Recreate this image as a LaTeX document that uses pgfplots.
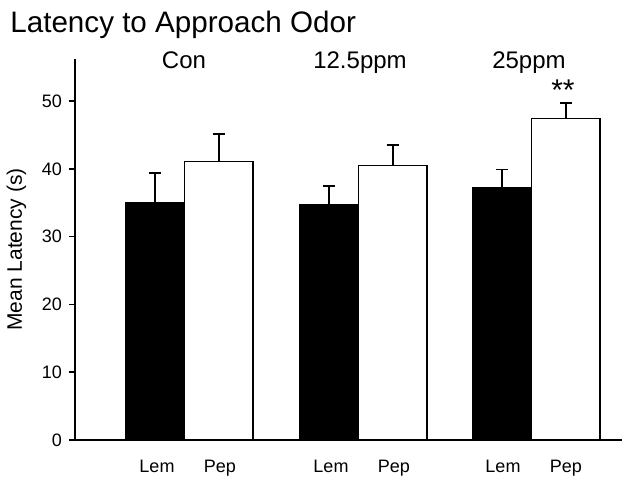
\documentclass[border=0pt]{standalone}
\usepackage{fontspec}
\setmainfont{Liberation Sans}
\usepackage{pgfplots}
\pgfplotsset{compat=1.18}
\begin{document}
\begin{tikzpicture}
\begin{axis}[
  scale only axis,
  width=273.5pt, height=190.5pt,
  xmin=75, xmax=622, ymin=0, ymax=56.2,
  axis x line=bottom, axis y line=left,
  axis line style={-, line width=0.8pt},
  clip=false,
  /pgf/number format/assume math mode=true,
  ytick={0,10,20,30,40,50},
  yticklabel style={font=\fontsize{9}{10}\selectfont},
  tick align=outside,
  major tick length=3pt,
  ytick style={line width=0.8pt, black},
  xtick={157,220,331,394,503,566},
  xticklabels={Lem,Pep,Lem,Pep,Lem,Pep},
  xtick style={draw=none},
  xticklabel style={font=\fontsize{9}{10}\selectfont, anchor=base, yshift=-13.3pt},
]
\addplot[ybar, bar shift=0pt, bar width=58.5, fill=black, draw=black, line width=0.5pt,
  error bars/.cd, y dir=plus, y explicit,
  error mark=|, error bar style={line width=0.9pt, black},
  error mark options={line width=0.9pt, mark size=3pt, black}]
  coordinates {(155.25,35.1) +- (0,4.3) (329.25,34.8) +- (0,2.7) (502.25,37.2) +- (0,2.7)};
\addplot[ybar, bar shift=0pt, bar width=68.5, fill=white, draw=black, line width=0.8pt,
  error bars/.cd, y dir=plus, y explicit,
  error mark=|, error bar style={line width=0.9pt, black},
  error mark options={line width=0.9pt, mark size=3pt, black}]
  coordinates {(218.75,41.1) +- (0,4.0) (392.75,40.5) +- (0,3.0) (565.75,47.4) +- (0,2.3)};
\node[anchor=base, font=\fontsize{12}{14}\selectfont, inner sep=0] at (axis cs:184,54.87) {Con};
\node[anchor=base, font=\fontsize{12}{14}\selectfont, inner sep=0] at (axis cs:360,54.87) {12.5ppm};
\node[anchor=base, font=\fontsize{12}{14}\selectfont, inner sep=0] at (axis cs:529,54.87) {25ppm};
\node[anchor=base, font=\fontsize{15}{17}\selectfont, inner sep=0] at (axis cs:563,50.15) {**};
\end{axis}
\node[anchor=base west, inner sep=0, font=\fontsize{14.8}{17}\selectfont] at (-32.5pt,203.5pt) {Latency to Approach Odor};
\node[rotate=90, anchor=base, inner sep=0, font=\fontsize{10.5}{12}\selectfont] at (-26.6pt,95.25pt) {Mean Latency (s)};
\path[use as bounding box] (-37.5pt,-19pt) rectangle (277pt,220pt);
\end{tikzpicture}
\end{document}
